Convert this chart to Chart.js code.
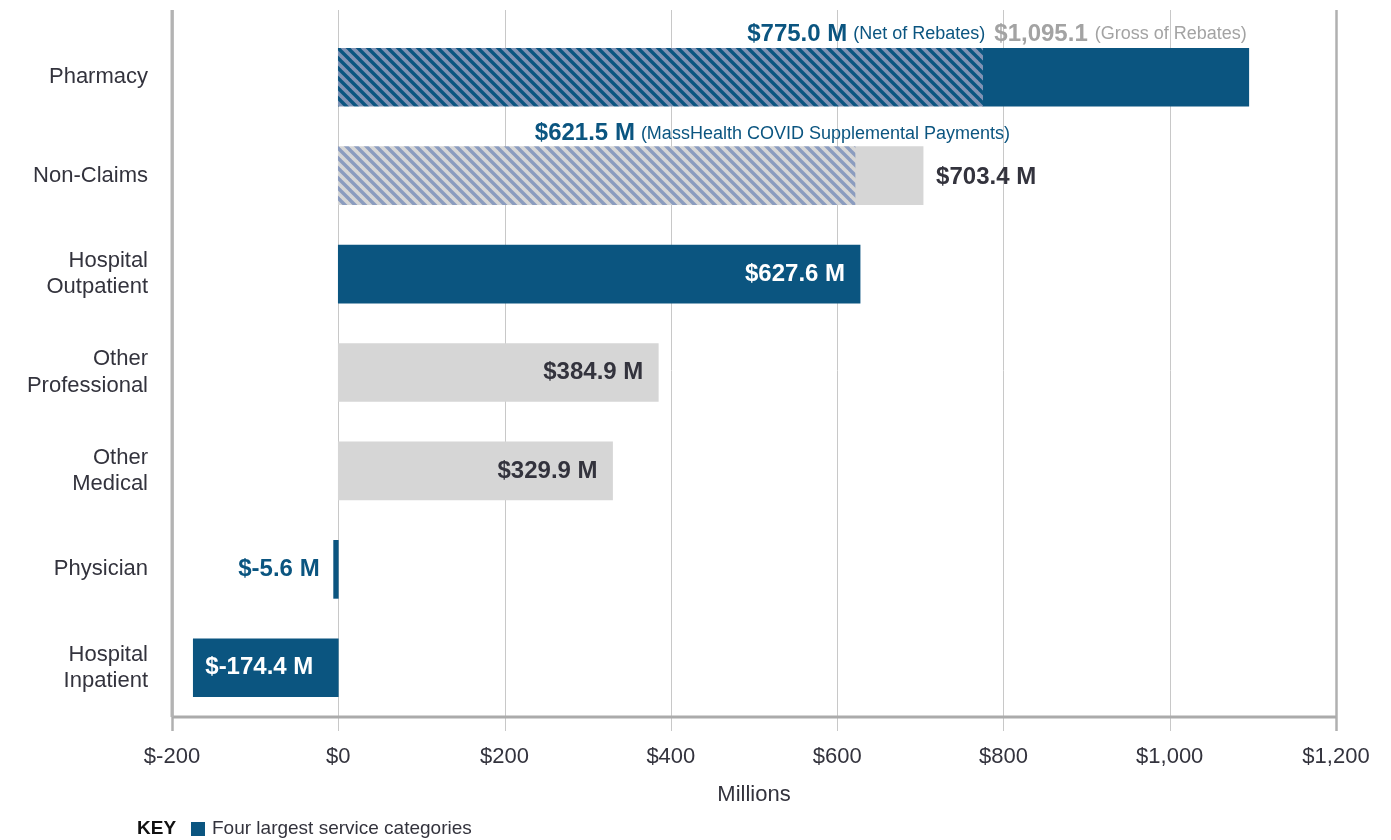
<!DOCTYPE html>
<html>
<head>
<meta charset="utf-8">
<script src="https://cdn.jsdelivr.net/npm/chart.js@4/dist/chart.umd.min.js"></script>
<style>
  html, body { margin: 0; padding: 0; background: #fff; }
  #wrap { width: 1391px; height: 840px; position: relative; }
</style>
</head>
<body>
<div id="wrap"><canvas id="spend_chart"></canvas></div>
<script>
// Chart data

const categories = [
    ['Pharmacy'],
    ['Non-Claims'],
    ['Hospital', 'Outpatient'],
    ['Other', 'Professional'],
    ['Other', 'Medical'],
    ['Physician'],
    ['Hospital', 'Inpatient']
];
const totalSpend = [1095.1, 703.4, 627.6, 384.9, 329.9, -5.6, -174.4];
const hatchedSpend = [775.0, 621.5, null, null, null, null, null];
const topFour = [true, false, true, false, false, true, true];
const xTicks = [-200, 0, 200, 400, 600, 800, 1000, 1200];

const darkBlue = '#0b5580';
const lightGrey = '#d6d6d6';
const darkText = '#33333d';
const fontFamily = '"Liberation Sans", Arial, Helvetica, sans-serif';

function makeHatch(bg, stripe) {
    const c = document.createElement('canvas');
    c.width = 10;
    c.height = 10;
    const g = c.getContext('2d');
    g.fillStyle = bg;
    g.fillRect(0, 0, 10, 10);
    g.strokeStyle = stripe;
    g.lineWidth = 3.4;
    for (const k of [-10, 0, 10]) {
        g.beginPath();
        g.moveTo(k - 1, -1);
        g.lineTo(k + 11, 11);
        g.stroke();
    }
    return g.createPattern(c, 'repeat');
}

const hatchDark = makeHatch('#8193b4', darkBlue);
const hatchGrey = makeHatch(lightGrey, '#8b9cbf');

// split each bar into hatched part and the rest
const hatchedBlue = hatchedSpend.map((v, i) => (v !== null && topFour[i]) ? v : null);
const hatchedGrey = hatchedSpend.map((v, i) => (v !== null && !topFour[i]) ? v : null);
const solidBlue = totalSpend.map((v, i) => topFour[i] ? +(v - (hatchedSpend[i] || 0)).toFixed(1) : null);
const solidGrey = totalSpend.map((v, i) => !topFour[i] ? +(v - (hatchedSpend[i] || 0)).toFixed(1) : null);

function fmtMoney(v) {
    return '$' + v.toLocaleString('en-US', { minimumFractionDigits: 1, maximumFractionDigits: 1 });
}

const gridPlugin = {
    id: 'gridLines',
    beforeDatasetsDraw(chart) {
        const { ctx, chartArea, scales: { x } } = chart;
        ctx.save();
        x.ticks.forEach(t => {
            const px = Math.round(x.getPixelForValue(t.value)) + 0.5;
            const edge = t.value === -200 || t.value === 1200;
            ctx.strokeStyle = edge ? '#b0b0b0' : '#c8c8c8';
            ctx.lineWidth = edge ? 2.5 : 1;
            ctx.beginPath();
            ctx.moveTo(px, 10);
            ctx.lineTo(px, chartArea.bottom + 14);
            ctx.stroke();
        });
        ctx.strokeStyle = '#ababab';
        ctx.lineWidth = 3;
        ctx.beginPath();
        ctx.moveTo(chartArea.left, chartArea.bottom);
        ctx.lineTo(chartArea.right, chartArea.bottom);
        ctx.stroke();
        ctx.restore();
    }
};

function drawParts(ctx, parts, xEnd, y) {
    // parts drawn right-to-left ending at xEnd, gap = space left of a part
    let xr = xEnd;
    for (let i = parts.length - 1; i >= 0; i--) {
        const p = parts[i];
        ctx.font = p.font;
        ctx.fillStyle = p.color;
        ctx.textAlign = 'right';
        ctx.fillText(p.text, xr, y);
        xr -= ctx.measureText(p.text).width + (p.gap || 0);
    }
}

const labelPlugin = {
    id: 'valueLabels',
    afterDatasetsDraw(chart) {
        const { ctx, chartArea } = chart;
        const bold = 'bold 24px ' + fontFamily;
        const small = '18px ' + fontFamily;
        const solidBlueMeta = chart.getDatasetMeta(1).data;
        const hatchGreyMeta = chart.getDatasetMeta(2).data;
        const solidGreyMeta = chart.getDatasetMeta(3).data;
        ctx.save();
        ctx.textBaseline = 'middle';

        // Pharmacy
        const ph = solidBlueMeta[0];
        drawParts(ctx, [
            { text: fmtMoney(hatchedSpend[0]) + ' M', font: bold, color: darkBlue },
            { text: '(Net of Rebates)', font: small, color: darkBlue, gap: 6 },
            { text: fmtMoney(totalSpend[0]), font: bold, color: '#a3a3a3', gap: 9 },
            { text: '(Gross of Rebates)', font: small, color: '#a3a3a3', gap: 7 }
        ], ph.x - 2, ph.y - 43);

        // Non-Claims
        const nc = hatchGreyMeta[1];
        drawParts(ctx, [
            { text: fmtMoney(hatchedSpend[1]) + ' M', font: bold, color: darkBlue },
            { text: '(MassHealth COVID Supplemental Payments)', font: small, color: darkBlue, gap: 6 }
        ], nc.x + 155, nc.y - 42);
        const ncg = solidGreyMeta[1];
        ctx.font = bold;
        ctx.fillStyle = darkText;
        ctx.textAlign = 'left';
        ctx.fillText(fmtMoney(totalSpend[1]) + ' M', ncg.x + 13, ncg.y + 2);

        // inside labels
        const inside = [
            { el: solidBlueMeta[2], i: 2, color: '#ffffff' },
            { el: solidGreyMeta[3], i: 3, color: darkText },
            { el: solidGreyMeta[4], i: 4, color: darkText }
        ];
        inside.forEach(d => {
            ctx.fillStyle = d.color;
            ctx.textAlign = 'right';
            ctx.fillText(fmtMoney(totalSpend[d.i]) + ' M', d.el.x - 15, d.el.y);
        });

        // negatives
        const phys = solidBlueMeta[5];
        ctx.fillStyle = darkBlue;
        ctx.textAlign = 'right';
        ctx.fillText(fmtMoney(totalSpend[5]) + ' M', phys.x - 14, phys.y);
        const hi = solidBlueMeta[6];
        ctx.fillStyle = '#ffffff';
        ctx.textAlign = 'left';
        ctx.fillText(fmtMoney(totalSpend[6]) + ' M', hi.x + 12, hi.y);

        // y axis line
        ctx.strokeStyle = '#b3b3b3';
        ctx.lineWidth = 3;
        ctx.beginPath();
        ctx.moveTo(chartArea.left, 10);
        ctx.lineTo(chartArea.left, chartArea.bottom);
        ctx.stroke();

        // axis title
        ctx.font = '22px ' + fontFamily;
        ctx.fillStyle = darkText;
        ctx.textAlign = 'center';
        ctx.fillText('Millions', (chartArea.left + chartArea.right) / 2, 795);

        // key
        ctx.font = 'bold 19px ' + fontFamily;
        ctx.fillStyle = '#111111';
        ctx.textAlign = 'left';
        ctx.fillText('KEY', 137, 829);
        ctx.fillStyle = darkBlue;
        ctx.fillRect(191, 822, 14, 14);
        ctx.font = '19px ' + fontFamily;
        ctx.fillStyle = darkText;
        ctx.fillText('Four largest service categories', 212, 829);
        ctx.restore();
    }
};

const spend_chart_ctx = document.getElementById('spend_chart').getContext('2d');
const spend_chart = new Chart(spend_chart_ctx, {
    type: 'bar',
    data: {
        labels: categories,
        datasets: [
            { label: 'Hatched blue', data: hatchedBlue, backgroundColor: hatchDark },
            { label: 'Four largest service categories', data: solidBlue, backgroundColor: darkBlue },
            { label: 'Hatched grey', data: hatchedGrey, backgroundColor: hatchGrey },
            { label: 'Other', data: solidGrey, backgroundColor: lightGrey }
        ]
    },
    options: {
        indexAxis: 'y',
        responsive: true,
        maintainAspectRatio: false,
        animation: false,
        datasets: { bar: { barThickness: 58, borderWidth: 0 } },
        layout: { padding: { top: 28, right: 55, bottom: 0, left: 0 } },
        plugins: { legend: { display: false }, tooltip: { enabled: false } },
        scales: {
            x: {
                stacked: true,
                min: -200,
                max: 1200,
                afterBuildTicks: scale => { scale.ticks = xTicks.map(v => ({ value: v })); },
                afterFit: scale => {
                    scale.height = 123;
                    scale.paddingLeft = 0;
                    scale.paddingRight = 0;
                },
                grid: { display: false, drawTicks: false },
                border: { display: false },
                ticks: {
                    padding: 27,
                    maxRotation: 0,
                    color: darkText,
                    font: { family: fontFamily, size: 22 },
                    callback: v => '$' + v.toLocaleString('en-US')
                }
            },
            y: {
                stacked: true,
                afterFit: scale => {
                    scale.width = 172;
                    scale.paddingTop = 0;
                    scale.paddingBottom = 0;
                },
                grid: { display: false, drawTicks: false },
                border: { display: false },
                ticks: {
                    padding: 24,
                    color: darkText,
                    font: { family: fontFamily, size: 22, lineHeight: 1.2 }
                }
            }
        }
    },
    plugins: [gridPlugin, labelPlugin]
});
</script>
</body>
</html>
